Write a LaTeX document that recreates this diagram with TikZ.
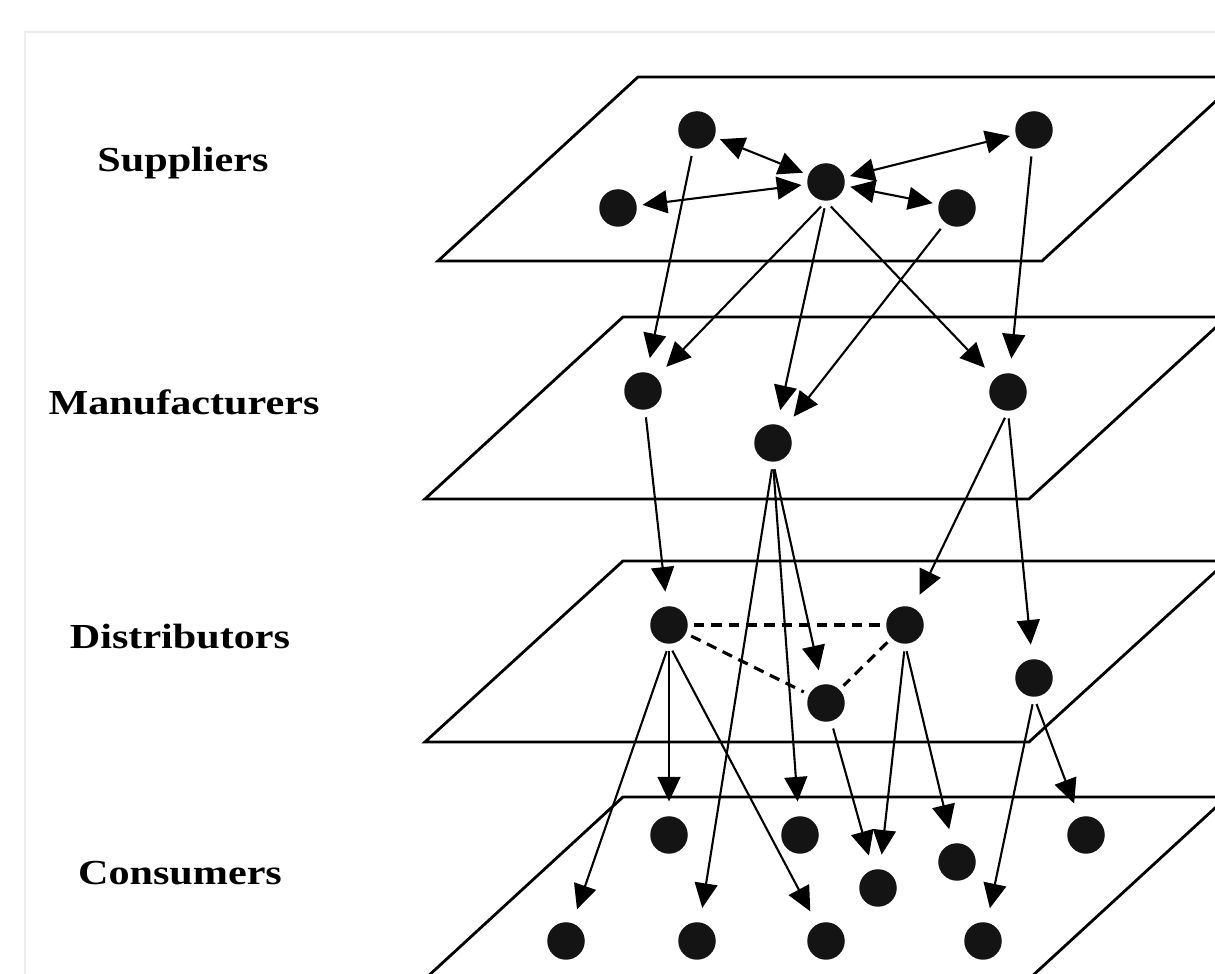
\documentclass[tikz,border=0pt]{standalone}
\usepackage{fontspec}
\newfontfamily\layerfont[FakeStretch=1.2]{Liberation Serif}
\usetikzlibrary{arrows.meta}

\tikzset{
	firm/.style={circle,fill=black!92,inner sep=0pt,minimum size=3.75mm},
	layer/.style={line width=0.8pt,black},
	flow/.style={line width=0.6pt,-{Triangle[length=7pt,width=6.5pt]},shorten >=4pt,shorten <=2pt},
	link/.style={line width=0.6pt,{Triangle[length=7pt,width=6.5pt]}-{Triangle[length=7pt,width=6.5pt]},shorten >=1.5pt,shorten <=1.5pt},
	peer/.style={line width=0.9pt,dash pattern=on 3pt off 2pt,shorten >=1.5pt,shorten <=1.5pt},
	lbl/.style={font=\layerfont\fontsize{10}{12}\selectfont\bfseries,anchor=base},
	frame/.style={line width=0.6pt,black!7}
}

\begin{document}
\begin{tikzpicture}
		\useasboundingbox (0,0) rectangle (12.15,9.74);
		\clip (0,0) rectangle (12.15,9.74);
		%
		\draw[frame] (12.15,9.42) -- (0.25,9.42) -- (0.25,0);
		%
		\draw[layer] (4.38,7.13) --  ++(6.04,0)  --   ++(2.00,1.84) --  ++(-6.04,0) --  cycle;
		\draw[layer] (4.25,4.75) --  ++(6.04,0)  --   ++(1.98,1.82) --  ++(-6.04,0) --  cycle;
		\draw[layer] (4.25,2.32) --  ++(6.04,0)  --   ++(1.98,1.81) --  ++(-6.04,0) --  cycle;
		\draw[layer] (4.25,-0.05) --  ++(6.04,0)  --   ++(1.98,1.82) --  ++(-6.04,0) --  cycle;
		%
		\node[lbl] (lsup) at (1.83,8.02) {Suppliers};
		\node[lbl] (lman) at (1.84,5.59) {Manufacturers};
		\node[lbl] (ldis) at (1.80,3.25) {Distributors};
		\node[lbl] (lcon) at (1.80,0.89) {Consumers};
		%
		\node[firm] (s1) at (6.97,8.44) {};
		\node[firm] (s2) at (10.34,8.44) {};
		\node[firm] (s3) at (8.26,7.92) {};
		\node[firm] (s4) at (6.18,7.66) {};
		\node[firm] (s5) at (9.57,7.66) {};
		%
		\node[firm] (m1) at (6.43,5.83) {};
		\node[firm] (m2) at (7.73,5.31) {};
		\node[firm] (m3) at (10.08,5.82) {};
		%
		\node[firm] (d1) at (6.69,3.49) {};
		\node[firm] (d2) at (9.05,3.49) {};
		\node[firm] (d3) at (8.26,2.71) {};
		\node[firm] (d4) at (10.34,2.96) {};
		%
		\node[firm] (c1) at (6.69,1.39) {};
		\node[firm] (c2) at (8.00,1.39) {};
		\node[firm] (c3) at (9.57,1.12) {};
		\node[firm] (c4) at (10.86,1.39) {};
		\node[firm] (c5) at (8.78,0.86) {};
		\node[firm] (c6) at (5.66,0.33) {};
		\node[firm] (c7) at (6.97,0.33) {};
		\node[firm] (c8) at (8.26,0.33) {};
		\node[firm] (c9) at (9.83,0.33) {};
		%
		\draw[link] (s1) -- (s3);
		\draw[link] (s3) -- (s2);
		\draw[link] (s4) -- (s3);
		\draw[link] (s3) -- (s5);
		%
		\draw[flow] (s1) -- (m1);
		\draw[flow] (s3.south) -- (m1);
		\draw[flow] (s3.south) -- (m2);
		\draw[flow] (s3.south) -- (m3);
		\draw[flow] (s5) -- (m2);
		\draw[flow] (s2) -- (m3);
		%
		\draw[flow] (m1) -- (d1);
		\draw[flow] (m2.south) -- (d3);
		\draw[flow] (m2.south) -- (c2);
		\draw[flow] (m2.south) -- (c7);
		\draw[flow] (m3.south) -- (d2);
		\draw[flow] (m3.south) -- (d4);
		%
		\draw[peer] (d1) -- (d2);
		\draw[peer] (d1) -- (d3);
		\draw[peer] (d2) -- (d3);
		%
		\draw[flow] (d1.south) -- (c6);
		\draw[flow] (d1.south) -- (c1);
		\draw[flow] (d1.south) -- (c8);
		\draw[flow] (d3) -- (c5);
		\draw[flow] (d2.south) -- (c5);
		\draw[flow] (d2.south) -- (c3);
		\draw[flow] (d4.south) -- (c9);
		\draw[flow] (d4.south) -- (c4);
\end{tikzpicture}
\end{document}
